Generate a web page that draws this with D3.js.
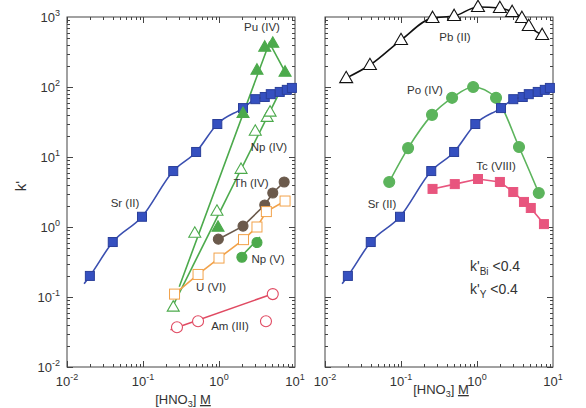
<!DOCTYPE html>
<html><head><meta charset="utf-8">
<script src="https://cdn.jsdelivr.net/npm/d3@7"></script>
<style>body{margin:0;background:#fff}svg{font-family:"Liberation Sans",Arial,sans-serif}</style>
</head><body><svg id="c" width="586" height="408"></svg>
<script>
// ---- data ----
const xTickExps = [-2, -1, 0, 1];
const yTickExps = [-2, -1, 0, 1, 2, 3];

// Sr(II) (both panels)
const srX = [0.020, 0.040, 0.097, 0.25, 0.50, 0.95, 2.07, 3.0, 4.0, 4.8, 6.3, 7.8, 9.1];
const srY = [0.20, 0.61, 1.40, 6.3, 11.8, 29.6, 50, 67, 72, 79, 85, 91, 97];
const srLineStartX = [0.0168];
const srLineStartY = [0.155];

// Pu(IV)
const puX = [0.97, 2.07, 3.16, 4.0, 5.1, 7.4];
const puY = [1.0, 42, 175, 373, 425, 164];
const puLineX = [0.30, 4.6, 7.4];
const puLineY = [0.14, 430, 164];

// Np(IV)
const npX = [0.25, 0.48, 0.94, 1.95, 3.0, 4.3, 4.7];
const npY = [0.072, 0.82, 1.69, 6.7, 23.5, 37, 44];
const npLineX = [0.24, 6.7];
const npLineY = [0.07, 97];

// Th(IV)
const thX = [0.98, 2.07, 4.0, 5.1, 7.2];
const thY = [0.67, 1.03, 2.06, 3.06, 4.4];

// U(VI)
const uX = [0.26, 0.53, 1.0, 2.1, 3.16, 4.2, 7.4];
const uY = [0.11, 0.21, 0.36, 0.66, 1.0, 1.66, 2.35];

// Np(V)
const npvX = [2.0, 3.16];
const npvY = [0.37, 0.60];
const npvLineX = [1.78, 3.46];
const npvLineY = [0.34, 0.72];

// Am(III)
const amX = [0.28, 0.53, 4.15, 5.1];
const amY = [0.037, 0.045, 0.045, 0.11];
const amLineX = [0.23, 6.0];
const amLineY = [0.034, 0.118];

// Pb(II)
const pbX = [0.019, 0.039, 0.10, 0.26, 0.50, 1.03, 2.0, 2.9, 3.9, 4.8, 7.2];
const pbY = [134, 206, 469, 968, 1033, 1390, 1345, 1180, 968, 744, 553];

// Po(IV)
const poX = [0.070, 0.124, 0.256, 0.47, 0.89, 1.78, 3.57, 6.5];
const poY = [4.4, 13.4, 40, 70, 100, 70, 13.9, 3.06];

// Tc(VIII)
const tcX = [0.26, 0.51, 1.03, 2.0, 3.0, 4.15, 5.1, 7.6];
const tcY = [3.5, 4.1, 4.85, 4.4, 3.16, 2.28, 1.87, 1.1];

// ---- colours ----
const C = {sr:"#3550c0", srLine:"#3a4fb0", pu:"#4caa4c", th:"#6b5a4c", u:"#f2a24a",
           am:"#e04a62", po:"#5cb45c", tc:"#e8557e", pb:"#111", frame:"#444", text:"#333"};

const zip = (xs, ys) => xs.map((v, i) => [v, ys[i]]);
const svg = d3.select("#c");

function panel(x0) {
  const x = d3.scaleLog().domain([1e-2, 1e1]).range([x0, x0 + 228]);
  const y = d3.scaleLog().domain([1e-2, 1e3]).range([367, 17]);
  const g = svg.append("g");
  g.append("rect").attr("x", x.range()[0]).attr("y", 17)
    .attr("width", 228).attr("height", 350)
    .attr("fill", "none").attr("stroke", C.frame).attr("stroke-width", 1);
  const xt = [], yt = [];
  for (let d = -2; d < 1; d++) for (let m = 1; m < 10; m++) xt.push([m * Math.pow(10, d), m === 1]);
  for (let d = -2; d < 3; d++) for (let m = 1; m < 10; m++) yt.push([m * Math.pow(10, d), m === 1]);
  const tk = g.append("g").attr("stroke", C.frame).attr("stroke-width", 1);
  xt.forEach(([v, maj]) => {
    const L = maj ? 6 : 3, px = Math.round(x(v)) + 0.5;
    tk.append("line").attr("x1", px).attr("x2", px).attr("y1", 367).attr("y2", 367 - L);
    tk.append("line").attr("x1", px).attr("x2", px).attr("y1", 17).attr("y2", 17 + L);
  });
  yt.forEach(([v, maj]) => {
    const L = maj ? 6 : 3, py = Math.round(y(v)) + 0.5;
    tk.append("line").attr("y1", py).attr("y2", py).attr("x1", x0).attr("x2", x0 + L);
    tk.append("line").attr("y1", py).attr("y2", py).attr("x1", x0 + 228).attr("x2", x0 + 228 - L);
  });
  xTickExps.forEach(e => {
    const t = g.append("text").attr("x", x(Math.pow(10, e))).attr("y", 386)
      .attr("text-anchor", "middle").attr("font-size", 13).attr("fill", C.text);
    t.append("tspan").text("10");
    t.append("tspan").attr("dy", -6).attr("font-size", 9).text(e);
  });
  const xl = g.append("text").attr("x", x(Math.pow(10, -0.5)) + 2).attr("y", x0 < 100 ? 404 : 394)
    .attr("text-anchor", "middle").attr("font-size", 13).attr("fill", C.text);
  xl.append("tspan").text("[HNO");
  xl.append("tspan").attr("dy", 3).attr("font-size", 9).text("3");
  xl.append("tspan").attr("dy", -3).text("] ");
  xl.append("tspan").attr("text-decoration", "underline").text("M");
  return {g, x, y};
}

function line(p, pts, color, curve, w) {
  p.g.append("path").datum(pts)
    .attr("d", d3.line().x(d => p.x(d[0])).y(d => p.y(d[1])).curve(curve || d3.curveLinear))
    .attr("fill", "none").attr("stroke", color).attr("stroke-width", w || 1.6);
}
function squares(p, pts, fill, stroke, s) {
  p.g.selectAll(null).data(pts).enter().append("rect")
    .attr("x", d => p.x(d[0]) - s / 2).attr("y", d => p.y(d[1]) - s / 2)
    .attr("width", s).attr("height", s).attr("fill", fill).attr("stroke", stroke).attr("stroke-width", 1);
}
function circles(p, pts, fill, stroke, r) {
  p.g.selectAll(null).data(pts).enter().append("circle")
    .attr("cx", d => p.x(d[0])).attr("cy", d => p.y(d[1])).attr("r", r)
    .attr("fill", fill).attr("stroke", stroke).attr("stroke-width", 1.1);
}
function triangles(p, pts, fill, stroke, s) {
  const h = s * 0.87;
  p.g.selectAll(null).data(pts).enter().append("path")
    .attr("d", d => {
      const cx = p.x(d[0]), cy = p.y(d[1]);
      return `M${cx},${cy - h * 0.6}L${cx + s / 2},${cy + h * 0.4}L${cx - s / 2},${cy + h * 0.4}Z`;
    })
    .attr("fill", fill).attr("stroke", stroke).attr("stroke-width", 1.1);
}
function label(p, txt, px, py, size) {
  p.g.append("text").attr("x", px).attr("y", py).attr("text-anchor", "middle")
    .attr("font-size", size || 11.5).attr("fill", C.text).attr("dominant-baseline", "middle").text(txt);
}

// ---- left panel ----
const L = panel(67);
yTickExps.forEach(e => {
  const t = L.g.append("text").attr("x", 60).attr("y", L.y(Math.pow(10, e)) + 5)
    .attr("text-anchor", "end").attr("font-size", 13).attr("fill", C.text);
  t.append("tspan").text("10");
  t.append("tspan").attr("dy", -6).attr("font-size", 9).text(e);
});
svg.append("text").attr("transform", "translate(26,186) rotate(-90)")
  .attr("text-anchor", "middle").attr("font-size", 15).attr("fill", C.text).text("k'");

const srPts = zip(srX, srY);
line(L, zip(srLineStartX, srLineStartY).concat(srPts), C.srLine, d3.curveMonotoneX);
line(L, zip(puLineX, puLineY), C.pu);
line(L, zip(npLineX, npLineY), C.pu);
line(L, zip(thX, thY), C.th);
line(L, zip(uX, uY), C.u);
line(L, zip(npvLineX, npvLineY), C.pu);
line(L, zip(amLineX, amLineY), C.am);
squares(L, srPts, C.sr, "#2a3f9a", 9);
triangles(L, zip(puX, puY), C.pu, C.pu, 12);
triangles(L, zip(npX, npY), "#fff", C.pu, 12);
circles(L, zip(thX, thY), C.th, C.th, 5);
squares(L, zip(uX, uY), "#fff", C.u, 10);
circles(L, zip(npvX, npvY), C.pu, C.pu, 5);
circles(L, zip(amX, amY), "#fff", C.am, 5.5);
label(L, "Pu (IV)", 262, 28);
label(L, "Np (IV)", 269, 148);
label(L, "Th (IV)", 251, 184);
label(L, "Np (V)", 268, 260);
label(L, "U (VI)", 211, 288);
label(L, "Am (III)", 230, 327);
label(L, "Sr (II)", 125, 204);

// ---- right panel ----
const R = panel(325);
line(R, zip(pbX, pbY), C.pb, d3.curveMonotoneX);
line(R, zip(poX, poY), C.po, d3.curveMonotoneX);
line(R, zip(srLineStartX, srLineStartY).concat(srPts), C.srLine, d3.curveMonotoneX);
line(R, zip(tcX, tcY), C.tc);
triangles(R, zip(pbX, pbY), "#fff", C.pb, 13);
circles(R, zip(poX, poY), C.po, C.po, 5.5);
squares(R, srPts, C.sr, "#2a3f9a", 9);
squares(R, zip(tcX, tcY), C.tc, C.tc, 9);
label(R, "Pb (II)", 455, 38);
label(R, "Po (IV)", 425, 91);
label(R, "Tc (VIII)", 496, 167);
label(R, "Sr (II)", 382, 205);

[["Bi", 271], ["Y", 294]].forEach(([sub, yy]) => {
  const t = R.g.append("text").attr("x", 470).attr("y", yy).attr("font-size", 14).attr("fill", C.text);
  t.append("tspan").text("k'");
  t.append("tspan").attr("dy", 4).attr("font-size", 10).text(sub);
  t.append("tspan").attr("dy", -4).text(" <0.4");
});
</script></body></html>
